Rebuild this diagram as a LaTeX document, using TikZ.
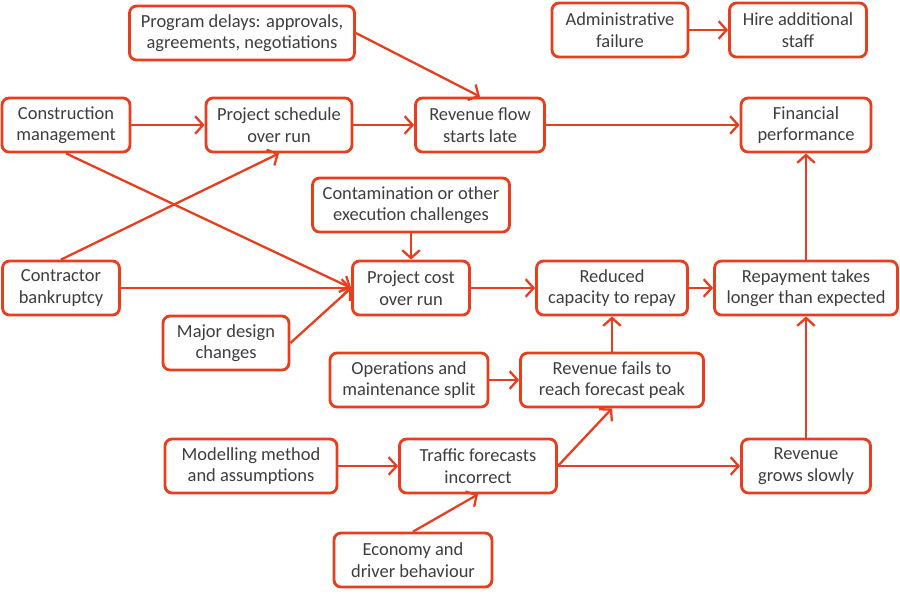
\documentclass[tikz,border=0pt]{standalone}
\usepackage{fontspec}
\setmainfont{Carlito}
\usetikzlibrary{arrows.meta}
\definecolor{boxred}{RGB}{232,62,30}
\definecolor{txtgray}{RGB}{62,62,62}

\begin{document}
\begin{tikzpicture}[x=0.02cm, y=-0.02cm,
	box/.style={draw=boxred, line width=1.6pt, rounded corners=4pt, fill=white, align=center, text=txtgray, font=\fontsize{10.5}{12.2}\selectfont, minimum height=1.08cm, inner sep=2pt},
	link/.style={draw=boxred, line width=1.3pt, -{Straight Barb[length=4.5pt,width=10pt]}}]
			\useasboundingbox (0,0) rectangle (900,600);
			% top rows
			\node[box, minimum width=4.5cm] (pdel) at (242,33) {Program delays: approvals,\\agreements, negotiations};
			\node[box, minimum width=2.72cm] (admf) at (620,30) {Administrative\\failure};
			\node[box, minimum width=2.74cm] (hire) at (798,30) {Hire additional\\staff};
			\node[box, minimum width=2.56cm] (cman) at (66,125) {Construction\\management};
			\node[box, minimum width=2.92cm] (psch) at (279,125) {Project schedule\\over run};
			\node[box, minimum width=2.58cm] (rfl) at (480,125) {Revenue flow\\starts late};
			\node[box, minimum width=2.6cm] (finp) at (806,125) {Financial\\performance};
			% middle rows
			\node[box, minimum width=3.94cm] (cont) at (411,205) {Contamination or other\\execution challenges};
			\node[box, minimum width=2.34cm] (cbank) at (61,288) {Contractor\\bankruptcy};
			\node[box, minimum width=2.34cm] (pcost) at (411,288) {Project cost\\over run};
			\node[box, minimum width=3.02cm] (rcap) at (612,288) {Reduced\\capacity to repay};
			\node[box, minimum width=3.66cm] (repay) at (806,288) {Repayment takes\\longer than expected};
			\node[box, minimum width=2.52cm] (mdes) at (226,343) {Major design\\changes};
			\node[box, minimum width=3.16cm] (oms) at (409,380) {Operations and\\maintenance split};
			\node[box, minimum width=3.66cm] (rfail) at (612,380) {Revenue fails to\\reach forecast peak};
			% bottom rows
			\node[box, minimum width=3.44cm] (model) at (251,466) {Modelling method\\and assumptions};
			\node[box, minimum width=3.14cm] (tfc) at (478,466) {Traffic forecasts\\incorrect};
			\node[box, minimum width=2.58cm] (rslow) at (806,466) {Revenue\\grows slowly};
			\node[box, minimum width=3.16cm] (econ) at (413,560) {Economy and\\driver behaviour};

			% connectors
			\draw[link] (pdel.east) -- (rfl.north);
			\draw[link] (admf) -- (hire);
			\draw[link] (cman) -- (psch);
			\draw[link] (psch) -- (rfl);
			\draw[link] (rfl) -- (finp);
			\draw[link] (cman.south) -- (pcost.west);
			\draw[link] (cbank.north) -- (psch.south);
			\draw[link] (cbank) -- (pcost);
			\draw[link] (mdes.east) -- (pcost.west);
			\draw[link] (cont) -- (pcost);
			\draw[link] (pcost) -- (rcap);
			\draw[link] (rcap) -- (repay);
			\draw[link] (repay) -- (finp);
			\draw[link] (rslow) -- (repay);
			\draw[link] (rfail) -- (rcap);
			\draw[link] (oms) -- (rfail);
			\draw[link] (model) -- (tfc);
			\draw[link] (econ.north) -- (tfc.south);
			\draw[link] (tfc.east) -- (rfail.south);
			\draw[link] (tfc) -- (rslow);
			\end{tikzpicture}
\end{document}
